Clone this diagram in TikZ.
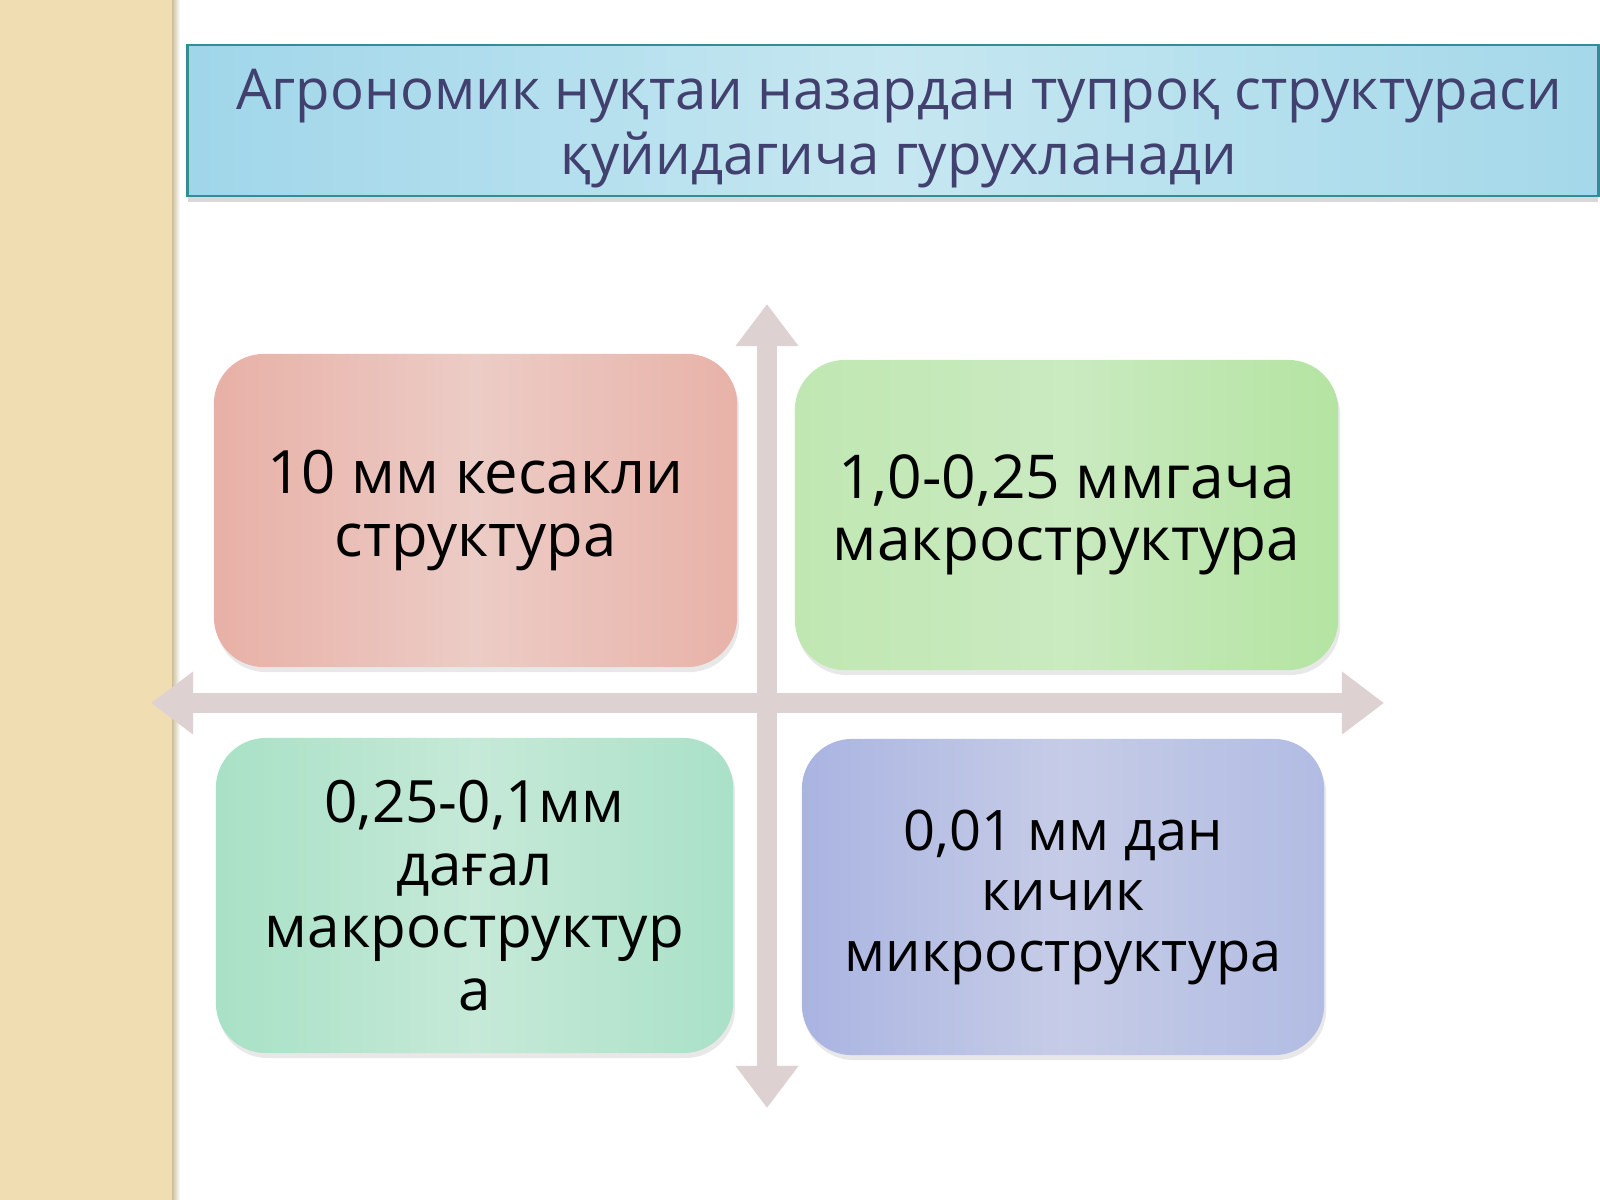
\documentclass[tikz,border=0pt]{standalone}
\usepackage{fontspec}
\setmainfont{Open Sans}
\usepackage{tikz}
\usetikzlibrary{arrows.meta}
\usetikzlibrary{shadows}

\definecolor{strip}{RGB}{240,221,178}
\definecolor{stripedge}{RGB}{205,190,155}
\definecolor{ttlborder}{RGB}{52,140,150}
\definecolor{ttltext}{RGB}{66,64,110}
\definecolor{axisgray}{RGB}{221,209,209}

\begin{document}
\begin{tikzpicture}[x=0.01cm, y=-0.01cm,
    axis/.style={line width=0.2cm, draw=axisgray,
      {Triangle[length=0.42cm,width=0.6cm]}-{Triangle[length=0.42cm,width=0.6cm]}},
    box/.style={rectangle, rounded corners=0.5cm, align=center, inner sep=0pt,
      drop shadow={opacity=0.18, shadow xshift=0.02cm, shadow yshift=-0.05cm}},
    ttl/.style={rectangle, draw=ttlborder, line width=0.8pt,
      left color={rgb,255:red,160;green,214;blue,234},
      right color={rgb,255:red,164;green,216;blue,234},
      middle color={rgb,255:red,198;green,231;blue,241},
      drop shadow={opacity=0.3, shadow xshift=0cm, shadow yshift=-0.06cm}},
    ttltxt/.style={align=center, inner sep=0pt, text=ttltext,
      font=\fontsize{16}{18.5}\selectfont},
  ]
\useasboundingbox (0,0) rectangle (1600,1200);
\fill[white] (0,0) rectangle (1600,1200);
% side strip
\fill[strip] (0,0) rectangle (172,1200);
\shade[left color=stripedge, right color=white] (172,0) rectangle (180,1200);

% title
\node(ttl)[ttl, minimum width=14.10cm, minimum height=1.51cm] at (893,120.5) {};
\node(ttlt)[ttltxt] at (899,129)
  {Агрономик нуқтаи назардан тупроқ структураси\\қуйидагича гурухланади};

% axes
\coordinate (vt) at (767,304);
\coordinate (vb) at (767,1108);
\coordinate (hl) at (151,703);
\coordinate (hr) at (1384,703);
\draw[axis] (vt) -- (vb);
\draw[axis] (hl) -- (hr);

% Row 1
\node(kes)[box, minimum width=5.23cm, minimum height=3.13cm,
  font=\fontsize{17}{17.8}\selectfont,
  left color={rgb,255:red,232;green,176;blue,166},
  right color={rgb,255:red,232;green,178;blue,168},
  middle color={rgb,255:red,236;green,204;blue,198}] at (475.5,510.5)
  {10 мм кесакли\\структура};
\node(mak)[box, minimum width=5.43cm, minimum height=3.10cm,
  font=\fontsize{17.2}{17.8}\selectfont,
  left color={rgb,255:red,192;green,231;blue,178},
  right color={rgb,255:red,180;green,228;blue,162},
  middle color={rgb,255:red,202;green,234;blue,192}] at (1066.5,515)
  {1,0-0,25 ммгача\\макроструктура};
% Row 2
\node(dag)[box, minimum width=5.17cm, minimum height=3.15cm,
  font=\fontsize{16.6}{17.8}\selectfont,
  left color={rgb,255:red,168;green,225;blue,198},
  right color={rgb,255:red,170;green,225;blue,200},
  middle color={rgb,255:red,198;green,233;blue,216}] at (474.5,895.5)
  {0,25-0,1мм\\дағал\\макроструктур\\а};
\node(mik)[box, minimum width=5.22cm, minimum height=3.16cm,
  font=\fontsize{15.9}{17.2}\selectfont,
  left color={rgb,255:red,170;green,180;blue,225},
  right color={rgb,255:red,178;green,188;blue,227},
  middle color={rgb,255:red,198;green,204;blue,231}] at (1063,897)
  {0,01 мм дан\\кичик\\микроструктура};
\end{tikzpicture}
\end{document}
